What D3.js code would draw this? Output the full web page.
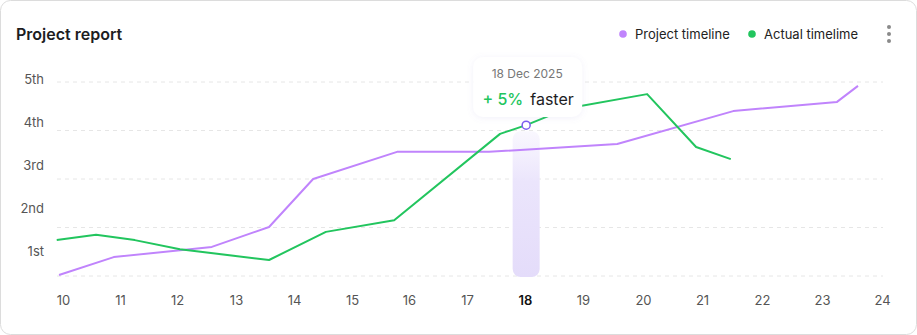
<!DOCTYPE html>
<html>
<head>
<meta charset="utf-8">
<script src="https://cdn.jsdelivr.net/npm/d3@7"></script>
<style>
  body { margin: 0; background: #fff; }
  svg { display: block; font-family: Inter, "Open Sans", sans-serif; }
</style>
</head>
<body>
<svg id="drawing_region"></svg>
<script>
// day ticks on x axis
const xTicks = [10, 11, 12, 13, 14, 15, 16, 17, 18, 19, 20, 21, 22, 23, 24];
const yLabels = ["1st", "2nd", "3rd", "4th", "5th"];
const gridValues = [0, 1, 2, 3, 4];

// Project timeline (purple)
const projectX = [9.93, 10.89, 12.59, 13.57, 14.33, 15.79, 17.38, 19.57, 21.52, 23.25, 23.6];
const projectY = [0.02, 0.39, 0.60, 1.01, 2.0, 2.56, 2.56, 2.72, 3.40, 3.59, 3.92];

// Actual timelime (green)
const actualX = [9.89, 10.58, 11.26, 12.05, 13.57, 14.55, 15.74, 17.57, 18.02, 18.74, 20.07, 20.9, 21.48];
const actualY = [0.74, 0.85, 0.74, 0.55, 0.33, 0.91, 1.15, 2.93, 3.11, 3.46, 3.75, 2.66, 2.41];

const focusDay = 18;
const focusIndex = 8;
const tipDate = "18 Dec 2025";
const tipChange = "+ 5%";
const tipWord = "faster";

const W = 917, H = 335;
const purple = "#c084fc", green = "#22c55e";

const svg = d3.select("#drawing_region").attr("width", W).attr("height", H);

// card
svg.append("rect")
  .attr("x", 0.5).attr("y", 0.5)
  .attr("width", W - 1).attr("height", H - 1)
  .attr("rx", 10)
  .attr("fill", "#fff")
  .attr("stroke", "#dcdcdc");

svg.append("text")
  .attr("x", 16).attr("y", 40)
  .attr("font-size", "16px").attr("font-weight", 600)
  .attr("fill", "#1d1d1f")
  .text("Project report");

// legend
const legend = [
  { label: "Project timeline", color: purple, x: 623 },
  { label: "Actual timelime", color: green, x: 752 }
];
const lg = svg.append("g").selectAll("g").data(legend).join("g")
  .attr("transform", d => `translate(${d.x}, 34)`);
lg.append("circle").attr("r", 3.8).attr("fill", d => d.color);
lg.append("text")
  .attr("x", 12).attr("dy", "0.35em")
  .attr("font-size", "13px").attr("fill", "#222")
  .text(d => d.label);

// menu dots
svg.append("g").selectAll("circle").data([27, 34, 41]).join("circle")
  .attr("cx", 889).attr("cy", d => d).attr("r", 2).attr("fill", "#8a8a8a");

// tick labels are laid out with space-between, so spacing is slightly uneven
const xscale = d3.scaleLinear()
  .domain(xTicks)
  .range([63, 120, 177, 236, 294, 352, 409, 467, 525, 583, 643, 702, 762, 822, 882]);
const yscale = d3.scaleLinear().domain([0, 4]).range([276, 82]);
const ylabelScale = d3.scalePoint().domain(yLabels).range([251, 79]);

// grid
svg.append("g").selectAll("line").data(gridValues).join("line")
  .attr("x1", 57).attr("x2", 883)
  .attr("y1", d => yscale(d)).attr("y2", d => yscale(d))
  .attr("stroke", "#e6e6e6")
  .attr("stroke-dasharray", "4,4");

// y labels
svg.append("g").selectAll("text").data(yLabels).join("text")
  .attr("x", 44).attr("y", d => ylabelScale(d))
  .attr("dy", "0.35em")
  .attr("text-anchor", "end")
  .attr("font-size", "13px").attr("fill", "#555")
  .text(d => d);

// x axis
const xaxis = d3.axisBottom(xscale).tickValues(xTicks).tickSize(0).tickPadding(0)
  .tickFormat(d3.format("d"));
const xg = svg.append("g").attr("transform", "translate(0, 296)").call(xaxis);
xg.select(".domain").remove();
xg.selectAll("text")
  .attr("font-family", "Inter, sans-serif")
  .attr("font-size", "13px")
  .attr("fill", d => d === focusDay ? "#111" : "#555")
  .attr("font-weight", d => d === focusDay ? 600 : 400);

// highlight bar
const defs = svg.append("defs");
const grad = defs.append("linearGradient").attr("id", "barGrad")
  .attr("x1", 0).attr("x2", 0).attr("y1", 0).attr("y2", 1);
grad.append("stop").attr("offset", "0%").attr("stop-color", "#ece6fc").attr("stop-opacity", 0.3);
grad.append("stop").attr("offset", "35%").attr("stop-color", "#ebe5fc").attr("stop-opacity", 1);
grad.append("stop").attr("offset", "100%").attr("stop-color", "#e4dcfa").attr("stop-opacity", 1);

const fx = xscale(actualX[focusIndex]);
svg.append("rect")
  .attr("x", fx - 13.5).attr("y", yscale(actualY[focusIndex]) + 6)
  .attr("width", 27)
  .attr("height", 277 - yscale(actualY[focusIndex]) - 6)
  .attr("rx", 8)
  .attr("fill", "url(#barGrad)");

// lines
const line = d3.line().x(d => xscale(d[0])).y(d => yscale(d[1]));
svg.append("path")
  .datum(d3.zip(projectX, projectY))
  .attr("fill", "none").attr("stroke", purple).attr("stroke-width", 2)
  .attr("stroke-linejoin", "round")
  .attr("d", line);
svg.append("path")
  .datum(d3.zip(actualX, actualY))
  .attr("fill", "none").attr("stroke", green).attr("stroke-width", 2)
  .attr("stroke-linejoin", "round")
  .attr("d", line);

// tooltip
const shadow = defs.append("filter").attr("id", "shadow")
  .attr("x", "-30%").attr("y", "-30%").attr("width", "160%").attr("height", "160%");
shadow.append("feDropShadow").attr("dx", 0).attr("dy", 1).attr("stdDeviation", 3)
  .attr("flood-color", "#8a7fd0").attr("flood-opacity", 0.12);

const tip = svg.append("g").attr("transform", `translate(${fx + 1}, 0)`);
tip.append("rect")
  .attr("x", -54).attr("y", 57).attr("width", 109).attr("height", 60)
  .attr("rx", 10).attr("fill", "#fff")
  .attr("filter", "url(#shadow)");
tip.append("text")
  .attr("x", 0).attr("y", 74).attr("dy", "0.35em")
  .attr("text-anchor", "middle")
  .attr("font-size", "12px").attr("fill", "#777")
  .text(tipDate);
const t2 = tip.append("text").attr("x", 1).attr("y", 99).attr("dy", "0.35em")
  .attr("text-anchor", "middle").attr("font-size", "16px");
t2.append("tspan").attr("fill", green).attr("font-weight", 500).text(tipChange);
t2.append("tspan").attr("fill", "#1d1d1f").attr("dx", 7).text(tipWord);

// marker
svg.append("circle")
  .attr("cx", fx).attr("cy", yscale(actualY[focusIndex]))
  .attr("r", 4)
  .attr("fill", "#fff").attr("stroke", "#7c5cf0").attr("stroke-width", 1.5);
</script>
</body>
</html>
